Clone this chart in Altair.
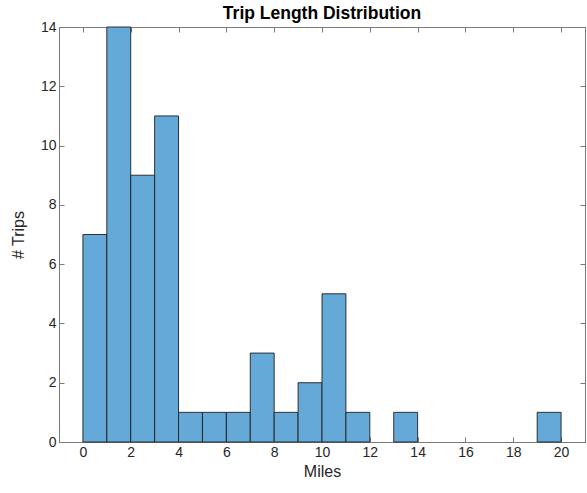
import altair as alt
import pandas as pd

bin_start = list(range(0, 20))
counts = [7, 14, 9, 11, 1, 1, 1, 3, 1, 2, 5, 1, 0, 1, 0, 0, 0, 0, 0, 1]
x_ticks = [0, 2, 4, 6, 8, 10, 12, 14, 16, 18, 20]
y_ticks = [0, 2, 4, 6, 8, 10, 12, 14]

df = pd.DataFrame({"start": bin_start, "end": [b + 1 for b in bin_start], "count": counts})
df_bars = df[df["count"] > 0]

FONT = "Liberation Sans"
AX = "#262626"
BOX = "#7a7a7a"

xs = alt.Scale(domain=[-1, 21], nice=False, zero=False)
ys = alt.Scale(domain=[0, 14], nice=False)

bars = alt.Chart(df_bars).mark_rect(
    color="#64a9d8", stroke="#1f1f1f", strokeWidth=0.9
).encode(
    x=alt.X("start:Q", scale=xs, title="Miles",
            axis=alt.Axis(values=x_ticks, orient="bottom", tickSize={"expr": "-5"},
                          labelPadding=8, titlePadding=4, grid=False)),
    x2="end:Q",
    y=alt.Y("count:Q", scale=ys, title="# Trips",
            axis=alt.Axis(values=y_ticks, orient="left", tickSize={"expr": "-5"},
                          labelPadding=8, titlePadding=14, grid=False)),
    y2=alt.Y2(datum=0),
)

mirror = alt.Chart(df).mark_point(opacity=0).encode(
    x=alt.X("start:Q", scale=xs, title=None,
            axis=alt.Axis(values=x_ticks, orient="top", tickSize={"expr": "-5"},
                          labels=False, grid=False)),
    y=alt.Y("count:Q", scale=ys, title=None,
            axis=alt.Axis(values=y_ticks, orient="right", tickSize={"expr": "-5"},
                          labels=False, grid=False)),
)

chart = alt.layer(bars, mirror).resolve_axis(x="independent", y="independent").properties(
    width=526, height=415,
    autosize=alt.AutoSizeParams(type="none"),
    padding={"left": 59, "top": 27, "right": 2, "bottom": 51},
    background="white",
    title=alt.TitleParams("Trip Length Distribution", font=FONT, fontSize=17.5,
                          fontWeight="bold", color="#000000", offset=-2),
).configure_view(stroke=BOX, strokeWidth=1).configure_axis(
    domainColor=BOX, tickColor=BOX, labelColor=AX, titleColor=AX,
    labelFont=FONT, titleFont=FONT, labelFontSize=14, titleFontSize=16,
    titleFontWeight="normal", domainWidth=1, tickWidth=1,
)

chart.save("out.html", embed_options={"renderer": "svg", "actions": False})
